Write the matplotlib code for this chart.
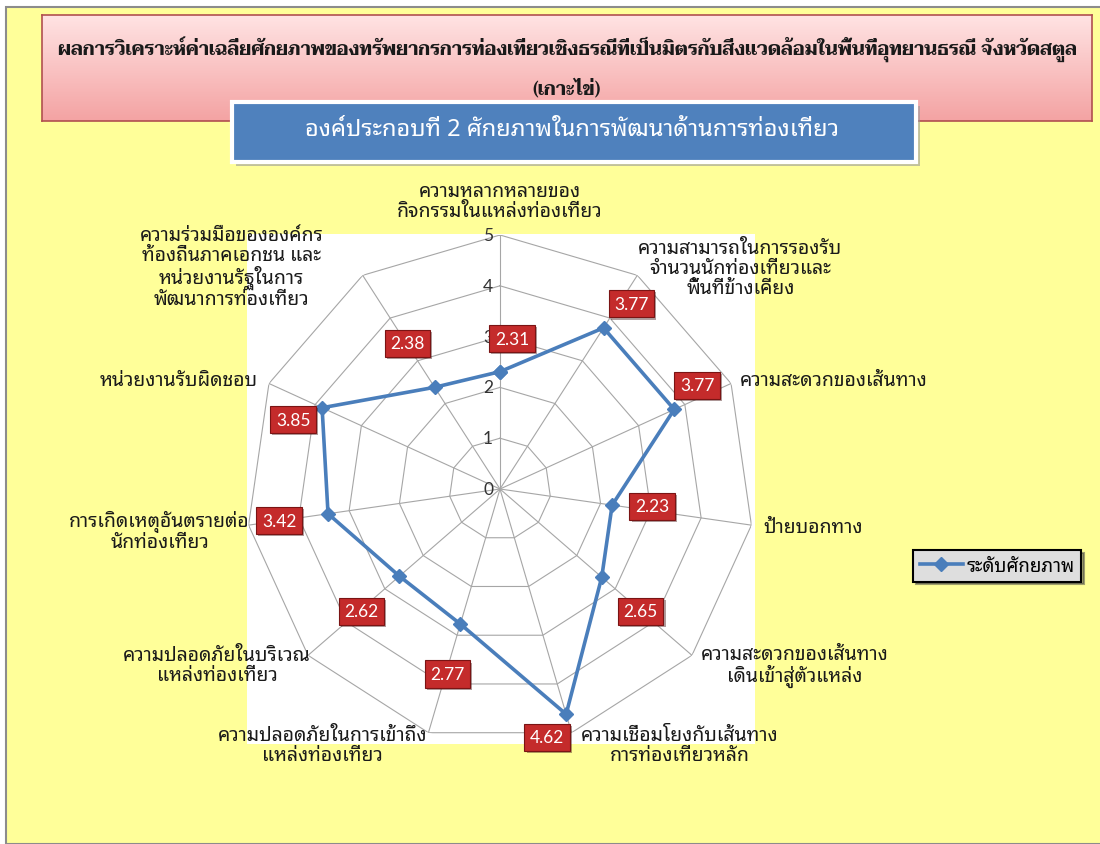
import numpy as np
import matplotlib
matplotlib.use('Agg')
import matplotlib.pyplot as plt
from matplotlib import font_manager
from matplotlib.patches import Rectangle
from matplotlib.colors import LinearSegmentedColormap
import matplotlib.patheffects as pe
from fontTools.ttLib import TTFont

TITLE = 'ผลการวิเคราะห์ค่าเฉลี่ยศักยภาพของทรัพยากรการท่องเที่ยวเชิงธรณีที่เป็นมิตรกับสิ่งแวดล้อมในพื้นที่อุทยานธรณี จังหวัดสตูล\n(เกาะไข่)'
SUBTITLE = 'องค์ประกอบที่ 2 ศักยภาพในการพัฒนาด้านการท่องเที่ยว'
SERIES_NAME = 'ระดับศักยภาพ'

CATEGORIES = [
    'ความหลากหลายของ\nกิจกรรมในแหล่งท่องเที่ยว',
    'ความสามารถในการรองรับ\nจำนวนนักท่องเที่ยวและ\nพื้นที่ข้างเคียง',
    'ความสะดวกของเส้นทาง',
    'ป้ายบอกทาง',
    'ความสะดวกของเส้นทาง\nเดินเข้าสู่ตัวแหล่ง',
    'ความเชื่อมโยงกับเส้นทาง\nการท่องเที่ยวหลัก',
    'ความปลอดภัยในการเข้าถึง\nแหล่งท่องเที่ยว',
    'ความปลอดภัยในบริเวณ\nแหล่งท่องเที่ยว',
    'การเกิดเหตุอันตรายต่อ\nนักท่องเที่ยว',
    'หน่วยงานรับผิดชอบ',
    'ความร่วมมือขององค์กร\nท้องถิ่นภาคเอกชน และ\nหน่วยงานรัฐในการ\nพัฒนาการท่องเที่ยว',
]
VALUES = [2.31, 3.77, 3.77, 2.23, 2.65, 4.62, 2.77, 2.62, 3.42, 3.85, 2.38]
TICKS = [0, 1, 2, 3, 4, 5]

# placement of category labels (pixel offsets from the outer vertex, alignment)
CAT_OFFSETS = [(0, 14), (103, 7), (9, 3), (12, -2), (103, -10), (108, -12),
               (-106, -12), (-91, -10), (-89, -6), (-11, 3), (-131, 8)]
CAT_ALIGN = [('center', 'bottom'), ('center', 'center'), ('left', 'center'),
             ('left', 'center'), ('center', 'center'), ('center', 'center'),
             ('center', 'center'), ('center', 'center'), ('center', 'center'),
             ('right', 'center'), ('center', 'center')]
# placement of the red value boxes (pixel offsets from the data point)
VAL_OFFSETS = [(12, 33), (28, 24), (23, 24), (40, -1), (39, -34), (-19, -23),
               (-13, -50), (-38, -35), (-49, -7), (-29, -12), (-27, 44)]

W, H = 1100, 845


def thai_families():
    found = []
    seen = set()
    for f in font_manager.fontManager.ttflist:
        if f.fname in seen:
            continue
        seen.add(f.fname)
        try:
            tt = TTFont(f.fname, fontNumber=0, lazy=True)
            cmap = tt.getBestCmap()
            if cmap and 0x0E01 in cmap and 0x0E49 in cmap:
                if f.name not in found:
                    found.append(f.name)
        except Exception:
            pass
    return found


def pick(found, pref):
    return next((p for p in pref if p in found), found[0] if found else 'DejaVu Sans')


def px(x, y, w, h):
    # pixel box (top-left origin) -> figure fraction
    return [x / W, 1 - (y + h) / H, w / W, h / H]


def main():
    found = thai_families()
    body = pick(found, ['Tahoma', 'Noto Sans Thai Looped', 'Noto Sans Thai', 'Loma'])
    head = pick(found, ['Taviraj', 'Trirong', 'FreeSerif', body])
    plt.rcParams['font.family'] = [body, 'DejaVu Sans']

    fig = plt.figure(figsize=(W / 100, H / 100), dpi=100, facecolor='white')

    # yellow sheet with gray frame on left / top
    fig.add_artist(Rectangle((6 / W, 0), 1, 1 - 8 / H, transform=fig.transFigure,
                             fc='#FFFF99', ec='#8C8C8C', lw=1.5, zorder=-3))
    # white plot area
    fig.add_artist(Rectangle((247 / W, 1 - 745 / H), 508 / W, 510 / H,
                             transform=fig.transFigure, fc='white', ec='none', zorder=-2))

    # title box with pink gradient
    tax = fig.add_axes(px(42, 16, 1050, 106))
    grad = np.linspace(0, 1, 100).reshape(-1, 1)
    pink = LinearSegmentedColormap.from_list('pink', ['#FFE3E3', '#F4A3A3'])
    tax.imshow(grad, cmap=pink, aspect='auto', extent=[0, 1, 0, 1], origin='upper')
    tax.set_xticks([])
    tax.set_yticks([])
    for s in tax.spines.values():
        s.set_color('#B05050')
        s.set_linewidth(1.2)
    line1, line2 = TITLE.split('\n')
    for txt, yy in [(line1, 0.68), (line2, 0.32)]:
        tax.text(0.5, yy, txt, ha='center', va='center', fontsize=13.3,
                 fontweight='bold', color='#1A1A1A', transform=tax.transAxes,
                 family=[head, 'DejaVu Sans'])

    # blue subtitle box
    fig.add_artist(Rectangle((236 / W, 1 - 167 / H), 684 / W, 60 / H, transform=fig.transFigure,
                             fc='#999999', ec='none', alpha=0.6, zorder=1))
    fig.add_artist(Rectangle((232 / W, 1 - 163 / H), 684 / W, 60 / H, transform=fig.transFigure,
                             fc='#4F81BD', ec='white', lw=3, zorder=2))
    fig.text(572 / W, 1 - 130 / H, SUBTITLE, ha='center', va='center', fontsize=17,
             color='white', zorder=3)

    # radar
    ax = fig.add_axes(px(246, 236, 508, 508), projection='polar')
    ax.patch.set_visible(False)
    ax.set_theta_zero_location('N')
    ax.set_theta_direction(-1)
    ax.set_ylim(0, TICKS[-1])
    ax.grid(False)
    ax.set_xticks([])
    ax.set_yticks([])
    ax.spines['polar'].set_visible(False)

    n = len(CATEGORIES)
    angles = np.linspace(0, 2 * np.pi, n, endpoint=False)
    closed = np.append(angles, angles[0])
    for t in TICKS[1:]:
        ax.plot(closed, [t] * (n + 1), color='#A6A6A6', lw=0.8, zorder=1)
    for a in angles:
        ax.plot([a, a], [0, TICKS[-1]], color='#A6A6A6', lw=0.8, zorder=1)
    for t in TICKS:
        ax.annotate(str(t), xy=(0, t), xytext=(-7, 0), textcoords='offset pixels',
                    ha='right', va='center', fontsize=12.5, color='#333333',
                    family=['Lato', 'DejaVu Sans'])

    vals = VALUES + VALUES[:1]
    line, = ax.plot(closed, vals, color='#4A7EBB', lw=2.6, marker='D', ms=7.5,
                    mfc='#4A7EBB', mec='#4A7EBB', zorder=3, label=SERIES_NAME)

    for a, v, off in zip(angles, VALUES, VAL_OFFSETS):
        txt = ax.annotate(f'{v:.2f}', xy=(a, v), xytext=off, textcoords='offset pixels',
                          ha='center', va='center', fontsize=12.5, color='white',
                          family=['Lato', 'DejaVu Sans'], zorder=5,
                          bbox=dict(boxstyle='square,pad=0.32', fc='#C42B2B', ec='#7A1414', lw=0.8))
        txt.get_bbox_patch().set_path_effects([pe.withSimplePatchShadow(offset=(1.5, -1.5), alpha=0.4)])

    for a, cat, off, (ha, va) in zip(angles, CATEGORIES, CAT_OFFSETS, CAT_ALIGN):
        ax.annotate(cat, xy=(a, TICKS[-1]), xytext=off, textcoords='offset pixels',
                    ha=ha, va=va, multialignment='center', fontsize=14, color='#1A1A1A',
                    linespacing=1.0, annotation_clip=False)

    leg = fig.legend(handles=[line], loc='center', bbox_to_anchor=(997 / W, 1 - 567 / H),
                     fancybox=False, shadow=True, fontsize=13.5, handlelength=2.3,
                     handletextpad=0.2, borderpad=0.35, framealpha=1)
    leg.get_frame().set_facecolor('#DEDEDE')
    leg.get_frame().set_edgecolor('black')
    leg.get_frame().set_linewidth(1.5)

    fig.savefig('out.png', dpi=100, facecolor=fig.get_facecolor())


if __name__ == '__main__':
    main()
